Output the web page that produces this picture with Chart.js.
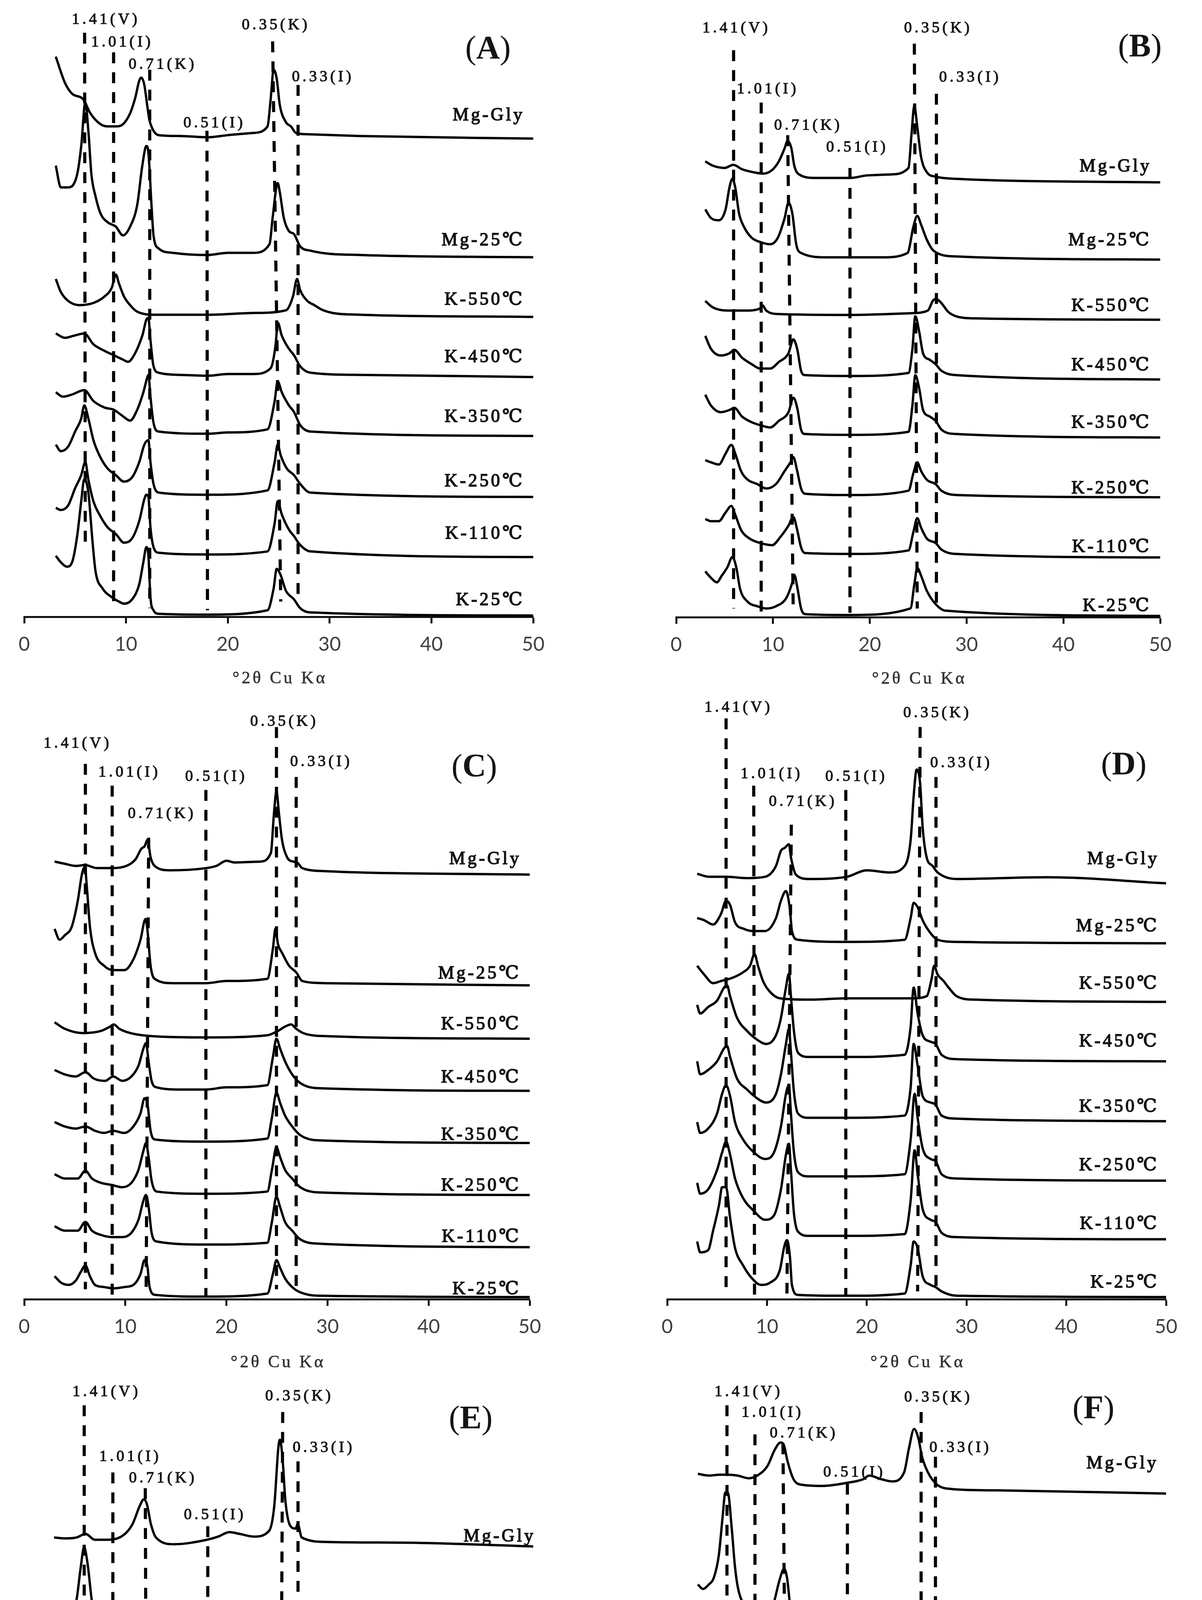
<!DOCTYPE html>
<html>
<head>
<meta charset="utf-8">
<script src="https://cdn.jsdelivr.net/npm/chart.js@4.4.0/dist/chart.umd.min.js"></script>
<style>
  html, body { margin: 0; padding: 0; background: #fff; }
  #page { position: relative; width: 3077px; height: 5307px; overflow: hidden; background: #fff; }
  canvas { position: absolute; }
</style>
</head>
<body>
<div id="page">
  <canvas id="pA"></canvas>
  <canvas id="pB"></canvas>
  <canvas id="pC"></canvas>
  <canvas id="pD"></canvas>
  <canvas id="pE"></canvas>
  <canvas id="pF"></canvas>
</div>
<script>
// sample names (top to bottom) and d-spacing marker labels
const traceNames = ['Mg-Gly', 'Mg-25℃', 'K-550℃', 'K-450℃', 'K-350℃', 'K-250℃', 'K-110℃', 'K-25℃'];
const peakNames = ['1.41(V)', '1.01(I)', '0.71(K)', '0.51(I)', '0.35(K)', '0.33(I)'];
const xTicks = [0, 10, 20, 30, 40, 50];

// intensity, [°2θ, stacked intensity]
const seriesA = [
  [[3.1,1285],[4.0,1225],[4.7,1200],[5.8,1187],[6.5,1155],[7.5,1130],[8.2,1125],[9.0,1125],[9.7,1130],[10.4,1155],[10.9,1190],[11.3,1230],[11.5,1237],[11.8,1220],[12.1,1170],[12.3,1140],[12.7,1115],[13.2,1105],[15.4,1103],[18,1100],[20,1105],[22.5,1110],[23.9,1125],[24.2,1185],[24.5,1255],[24.8,1235],[25.1,1175],[25.7,1135],[26.2,1125],[26.7,1110],[27.8,1107],[33,1103],[50,1097]],
  [[3.1,1035],[3.6,985],[4.3,985],[5.2,1015],[5.6,1080],[6.0,1180],[6.3,1115],[6.6,1015],[7.0,965],[7.5,925],[8.2,905],[9.0,895],[9.7,875],[10.4,895],[11.1,945],[11.6,1035],[12.0,1080],[12.2,1065],[12.5,945],[12.7,875],[13.2,845],[14.6,835],[18,830],[20,835],[22.5,835],[24.1,855],[24.4,915],[24.9,995],[25.1,975],[25.5,915],[26.0,885],[26.5,878],[27.1,850],[28.1,840],[33,830],[50,825]],
  [[3.1,775],[3.6,745],[4.3,725],[5.4,715],[6.8,720],[7.9,735],[8.6,755],[9.0,785],[9.3,765],[9.8,735],[10.4,715],[11.1,700],[12.9,693],[18,693],[22.5,697],[25.7,703],[26.4,735],[26.8,775],[27.1,750],[27.8,725],[28.5,715],[29.2,705],[30.3,697],[33,693],[50,688]],
  [[3.1,650],[4.0,640],[4.9,645],[5.9,650],[6.8,625],[7.9,610],[8.8,600],[9.7,590],[10.2,585],[10.9,605],[11.6,645],[12.1,685],[12.2,685],[12.4,635],[12.7,575],[13.2,560],[15.4,555],[18,553],[20,557],[22.5,557],[24.2,570],[24.7,625],[24.9,675],[25.3,645],[26.0,615],[26.5,600],[27.1,575],[28.1,560],[33,555],[50,550]],
  [[3.1,515],[3.8,505],[4.7,510],[5.9,520],[6.8,495],[7.9,480],[8.8,475],[9.7,460],[10.4,450],[11.1,475],[11.7,515],[12.1,550],[12.2,555],[12.4,505],[12.7,445],[13.2,425],[18,420],[20,423],[23.9,430],[24.6,495],[24.9,540],[25.3,515],[26.0,485],[26.5,470],[27.1,440],[28.1,425],[50,415]],
  [[3.1,395],[3.6,380],[4.3,390],[5.0,425],[5.6,455],[5.9,485],[6.3,455],[6.8,405],[7.5,365],[8.2,340],[9.0,325],[9.8,310],[10.6,320],[11.3,355],[11.8,395],[12.2,405],[12.4,355],[12.7,305],[13.2,285],[18,280],[23.9,290],[24.6,355],[24.9,395],[25.2,370],[25.8,340],[26.5,325],[27.1,305],[28.1,285],[50,275]],
  [[3.1,250],[3.6,245],[4.3,255],[5.0,295],[5.6,325],[6.0,355],[6.3,315],[6.8,265],[7.5,230],[8.2,205],[9.0,190],[9.8,170],[10.6,180],[11.3,220],[11.8,270],[12.0,280],[12.2,275],[12.4,205],[12.7,160],[13.2,147],[18,143],[23.9,150],[24.6,215],[24.9,265],[25.3,235],[26.0,200],[26.5,185],[27.1,165],[28.1,150],[50,137]],
  [[3.1,140],[3.6,125],[4.2,115],[4.7,125],[5.2,185],[5.6,265],[5.9,315],[6.3,285],[6.7,175],[7.0,105],[7.7,65],[8.6,45],[9.3,35],[9.8,30],[10.6,40],[11.3,75],[11.7,125],[12.0,160],[12.2,140],[12.4,45],[12.7,15],[13.2,7],[18,5],[23.9,15],[24.5,65],[24.8,110],[25.2,95],[25.7,60],[26.5,40],[27.1,20],[28.1,10],[50,3]]
];
const seriesB = [
  [[3.0,1045],[3.8,1035],[5.0,1030],[5.9,1037],[6.8,1027],[8.0,1020],[9.0,1017],[9.9,1025],[10.6,1045],[11.2,1075],[11.5,1092],[11.9,1075],[12.2,1035],[12.7,1015],[14.4,1007],[18,1007],[19.8,1013],[22.1,1015],[24.0,1030],[24.3,1105],[24.6,1172],[24.9,1125],[25.3,1055],[25.9,1020],[26.8,1010],[28.9,1005],[50,997]],
  [[3.0,935],[3.6,915],[4.4,910],[5.1,935],[5.5,985],[5.8,1005],[6.1,985],[6.5,925],[7.0,895],[7.8,870],[8.7,860],[9.7,855],[10.5,870],[11.2,915],[11.6,950],[12.0,925],[12.4,855],[12.9,835],[15.6,825],[21.3,825],[23.9,835],[24.5,895],[24.9,920],[25.3,900],[25.9,865],[26.6,840],[28.9,827],[50,820]],
  [[3.0,725],[3.8,710],[5.3,703],[7.2,703],[8.6,707],[8.9,715],[9.3,703],[10.6,695],[18,693],[24.3,697],[26.0,703],[26.5,725],[26.8,730],[27.4,720],[28.1,700],[28.9,690],[30.8,685],[50,682]],
  [[3.0,645],[3.6,615],[4.6,600],[5.5,605],[6.0,613],[6.8,595],[7.8,580],[8.7,570],[9.7,570],[10.6,585],[11.6,605],[12.1,637],[12.5,615],[12.9,565],[13.3,555],[18,553],[24.0,560],[24.4,615],[24.7,690],[25.1,655],[25.5,605],[26.2,590],[26.8,580],[27.4,565],[28.9,555],[50,545]],
  [[3.0,510],[3.6,485],[4.6,470],[5.5,475],[6.0,480],[6.8,460],[7.8,447],[8.7,440],[9.7,435],[10.6,450],[11.6,470],[12.1,503],[12.5,480],[12.9,430],[13.3,420],[18,418],[24.0,425],[24.4,485],[24.7,555],[25.1,525],[25.5,475],[26.2,460],[26.8,450],[27.4,430],[28.9,420],[50,412]],
  [[3.0,360],[3.6,355],[4.4,350],[5.1,375],[5.7,395],[6.1,375],[6.7,335],[7.4,315],[8.4,305],[9.3,295],[10.3,305],[11.2,335],[11.8,355],[12.1,367],[12.5,335],[12.9,295],[13.3,283],[18,280],[24.0,290],[24.5,330],[24.9,355],[25.3,335],[25.9,315],[26.8,305],[27.4,290],[28.9,280],[50,275]],
  [[3.0,225],[3.6,220],[4.4,220],[5.1,240],[5.7,255],[6.1,235],[6.7,200],[7.6,180],[8.7,170],[9.9,165],[10.8,185],[11.6,210],[12.1,230],[12.5,200],[12.9,160],[13.3,147],[18,145],[24.0,153],[24.5,195],[24.9,227],[25.3,205],[25.9,180],[26.8,170],[27.4,155],[28.9,145],[50,137]],
  [[3.0,105],[3.6,90],[4.2,80],[4.7,95],[5.3,115],[5.8,138],[6.2,115],[6.6,65],[7.4,35],[8.4,25],[9.3,20],[10.3,25],[11.4,45],[12.0,80],[12.2,97],[12.5,70],[12.9,20],[13.3,7],[18,5],[24.2,20],[24.6,75],[24.9,113],[25.3,95],[25.9,60],[26.8,30],[27.8,15],[50,3]]
];
const seriesC = [
  [[3.0,1008],[4.0,1003],[5.1,998],[6.0,1000],[7.2,993],[8.7,993],[10.1,998],[11.0,1013],[11.6,1038],[11.9,1043],[12.2,1058],[12.5,1018],[12.9,998],[14.4,988],[18,993],[19.0,998],[20.0,1010],[20.8,1006],[23.3,1008],[24.4,1028],[24.7,1118],[24.95,1170],[25.2,1118],[25.5,1058],[26.0,1018],[26.6,1008],[27.0,1006],[27.5,993],[29.8,986],[50,978]],
  [[3.0,853],[3.5,828],[4.0,838],[4.7,858],[5.3,918],[5.7,978],[6.0,996],[6.2,948],[6.5,858],[7.0,798],[7.9,768],[8.8,758],[9.9,758],[10.8,783],[11.5,828],[12.0,876],[12.2,848],[12.5,768],[12.9,738],[14.7,728],[18,728],[20,733],[24.05,738],[24.6,808],[24.85,853],[25.1,818],[25.5,798],[26.2,768],[26.9,753],[27.5,733],[29.8,728],[50,723]],
  [[3.0,638],[4.0,623],[5.8,613],[7.6,618],[8.5,628],[8.85,633],[9.4,623],[10.5,613],[12.6,606],[18,603],[24.05,608],[25.1,618],[25.8,628],[26.4,633],[26.9,623],[27.6,613],[29.8,606],[50,600]],
  [[3.0,528],[4.0,518],[5.1,513],[6.05,523],[6.9,508],[8.0,503],[8.8,513],[9.7,503],[10.6,513],[11.3,538],[11.8,578],[12.05,590],[12.3,548],[12.6,503],[13.1,488],[15.5,483],[18,483],[20,488],[24.05,493],[24.6,558],[24.95,600],[25.3,578],[25.8,548],[26.5,518],[27.3,498],[29.1,486],[50,480]],
  [[3.0,408],[4.0,398],[5.1,393],[6.05,398],[7.0,388],[7.9,383],[8.8,388],[9.9,383],[10.8,398],[11.5,428],[11.9,463],[12.2,448],[12.5,388],[12.9,368],[18,363],[24.05,370],[24.5,418],[24.95,476],[25.3,453],[25.8,423],[26.5,398],[27.3,378],[29.1,366],[50,360]],
  [[3.0,288],[4.0,278],[5.3,278],[6.05,296],[6.7,278],[7.6,268],[8.7,263],[9.7,258],[10.6,268],[11.3,298],[11.8,343],[12.05,360],[12.3,328],[12.6,273],[13.1,248],[18,243],[24.05,248],[24.5,298],[24.95,350],[25.3,328],[25.8,298],[26.5,278],[27.3,258],[29.1,246],[50,240]],
  [[3.0,168],[4.0,158],[5.3,158],[6.05,178],[6.7,158],[7.6,148],[8.7,143],[9.7,143],[10.6,153],[11.3,183],[11.8,228],[12.05,240],[12.3,213],[12.6,153],[13.1,133],[18,126],[24.05,130],[24.5,178],[24.95,236],[25.3,213],[25.8,178],[26.5,158],[27.3,138],[29.1,128],[50,120]],
  [[3.0,53],[3.65,38],[4.4,33],[5.1,43],[5.6,63],[6.05,78],[6.5,53],[7.0,33],[7.9,28],[8.8,25],[9.9,28],[10.8,33],[11.5,58],[11.9,90],[12.2,73],[12.4,28],[12.95,10],[18,6],[24.05,13],[24.6,58],[24.95,90],[25.3,73],[25.8,48],[26.5,28],[27.3,16],[29.1,8],[50,5]]
];
const seriesD = [
  [[3.0,980],[4.2,973],[6.0,973],[7.9,970],[9.8,973],[10.9,998],[11.4,1033],[11.8,1040],[12.2,1048],[12.4,1018],[12.9,978],[14.2,968],[18,973],[20,988],[22.3,983],[23.8,998],[24.4,1058],[24.7,1158],[25.0,1220],[25.35,1188],[25.6,1088],[26.0,1018],[26.6,998],[27.1,983],[29.0,968],[38,972],[50,958]],
  [[3.0,878],[3.7,873],[4.6,863],[5.4,888],[5.9,918],[6.3,908],[6.8,868],[7.7,853],[8.7,848],[9.8,848],[10.9,878],[11.4,918],[11.9,940],[12.3,898],[12.5,848],[13.1,828],[18,823],[23.8,828],[24.4,878],[24.7,913],[25.1,903],[25.6,873],[26.4,843],[27.1,828],[29.0,823],[50,820]],
  [[3.0,768],[3.7,748],[4.6,728],[5.4,733],[6.5,740],[7.6,753],[8.3,768],[8.75,795],[9.1,768],[9.6,733],[10.3,708],[11.3,693],[14.2,690],[18,693],[24.5,693],[26.0,698],[26.5,738],[26.75,768],[27.1,748],[27.7,733],[28.2,718],[29.0,698],[30.8,690],[50,685]],
  [[3.0,678],[3.3,658],[4.1,673],[5.0,688],[5.7,718],[6.0,723],[6.3,698],[7.0,648],[8.0,618],[9.0,598],[9.9,588],[10.9,608],[11.4,648],[11.9,718],[12.2,750],[12.4,698],[12.7,618],[13.1,568],[14.2,558],[18,558],[23.8,563],[24.4,628],[24.7,718],[25.1,658],[25.6,608],[26.4,593],[26.9,588],[27.5,563],[29.0,553],[50,548]],
  [[3.0,548],[3.3,518],[4.1,528],[5.0,548],[5.7,578],[6.0,583],[6.3,558],[7.0,508],[8.0,483],[9.0,463],[9.9,453],[10.9,473],[11.4,518],[11.9,588],[12.2,623],[12.4,568],[12.7,478],[13.1,428],[14.2,418],[18,418],[23.8,423],[24.4,488],[24.7,588],[25.1,538],[25.6,468],[26.4,453],[26.9,448],[27.5,423],[29.0,416],[50,410]],
  [[3.0,408],[3.3,383],[4.1,393],[5.0,428],[5.5,473],[5.9,493],[6.3,468],[6.8,408],[7.6,368],[8.7,338],[9.8,323],[10.7,338],[11.4,398],[11.9,473],[12.2,493],[12.4,428],[12.7,338],[13.1,293],[14.2,283],[18,283],[23.8,288],[24.4,368],[24.8,473],[25.1,418],[25.6,348],[26.4,323],[26.9,318],[27.5,288],[29.0,278],[50,273]],
  [[3.0,268],[3.3,243],[4.1,253],[5.0,298],[5.5,338],[5.9,363],[6.3,333],[6.8,278],[7.6,233],[8.7,203],[9.8,183],[10.7,193],[11.4,253],[11.9,333],[12.2,358],[12.4,298],[12.7,198],[13.1,156],[14.2,146],[18,146],[23.8,150],[24.4,228],[24.8,343],[25.1,288],[25.6,208],[26.4,183],[26.9,178],[27.5,153],[29.0,143],[50,138]],
  [[3.0,133],[3.3,108],[4.1,113],[4.6,158],[5.2,218],[5.5,258],[5.9,258],[6.3,188],[6.8,118],[7.6,78],[8.5,48],[9.4,33],[10.3,38],[11.3,68],[11.7,118],[12.0,136],[12.3,98],[12.5,33],[13.1,10],[18,8],[23.8,13],[24.4,78],[24.7,133],[25.1,118],[25.6,53],[26.4,33],[26.9,28],[27.5,18],[29.0,8],[50,5]]
];
const seriesE = [
  [[3.0,998],[4.1,996],[5.2,998],[6.1,1006],[7.0,993],[8.4,993],[9.8,1003],[10.7,1028],[11.4,1068],[11.8,1083],[12.1,1073],[12.5,1028],[13.0,998],[14.8,983],[18,993],[19.1,1000],[20.2,1010],[21.2,1006],[22.6,1000],[24.1,1013],[24.6,1068],[25.0,1198],[25.15,1216],[25.4,1178],[25.7,1078],[26.2,1023],[26.7,1018],[26.9,1028],[27.3,998],[29.8,988],[38.7,986],[50,978]],
  [[3.0,833],[3.6,823],[4.5,823],[5.2,858],[5.6,928],[5.95,976],[6.3,938],[6.7,858],[7.1,808],[8.0,778],[8.9,768],[9.8,758],[10.5,768],[11.2,798],[11.7,848],[12.05,818],[12.4,748],[12.8,723],[14.8,713],[18,713],[22.6,718],[24.2,738],[24.8,823],[25.2,808],[25.7,778],[26.2,753],[26.9,743],[27.6,728],[29.8,718],[50,713]],
  [[3.0,683],[4.1,673],[5.9,673],[7.7,678],[8.4,688],[8.8,700],[9.3,688],[10.0,673],[11.2,663],[13.7,658],[18,658],[24.1,666],[26.2,683],[26.75,716],[27.3,698],[28.0,683],[28.7,673],[29.8,660],[50,653]],
  [[3.0,568],[3.6,563],[4.5,568],[5.3,578],[6.05,583],[6.6,563],[7.7,538],[8.4,533],[8.8,543],[9.5,523],[10.5,518],[11.4,548],[11.8,588],[12.0,623],[12.25,636],[12.5,578],[12.8,508],[13.4,488],[15.5,480],[18,480],[24.1,488],[24.6,548],[25.0,623],[25.3,588],[25.9,538],[26.6,523],[26.9,528],[27.5,498],[29.8,483],[50,476]],
  [[3.0,423],[3.6,418],[4.5,423],[5.4,433],[6.2,438],[6.8,423],[7.7,403],[8.4,393],[8.8,410],[9.3,393],[10.3,388],[11.2,418],[11.8,478],[12.05,515],[12.3,498],[12.6,418],[13.0,373],[13.7,363],[18,360],[24.1,368],[24.6,428],[25.0,510],[25.3,468],[25.9,418],[26.6,403],[27.0,403],[27.5,378],[29.8,366],[50,360]],
  [[3.0,318],[3.6,313],[4.3,328],[5.0,358],[5.6,378],[5.95,393],[6.4,368],[7.0,328],[7.7,298],[8.6,278],[9.5,268],[10.3,273],[11.1,298],[11.7,368],[11.95,413],[12.3,388],[12.6,298],[13.0,253],[13.7,246],[18,243],[24.1,250],[24.5,318],[25.0,383],[25.3,358],[25.9,303],[26.6,283],[27.0,283],[27.5,258],[29.8,246],[50,240]],
  [[3.0,213],[3.6,203],[4.3,223],[5.0,248],[5.5,263],[5.95,280],[6.4,253],[7.0,208],[7.7,178],[8.6,158],[9.5,148],[10.3,153],[11.1,178],[11.6,238],[11.95,303],[12.1,323],[12.4,288],[12.7,188],[13.0,143],[13.7,133],[18,128],[24.1,133],[24.5,198],[25.0,273],[25.3,238],[25.9,188],[26.6,168],[27.0,170],[27.5,143],[29.8,130],[50,123]],
  [[3.0,103],[3.6,93],[4.3,103],[5.0,128],[5.5,178],[5.95,210],[6.3,178],[6.8,108],[7.5,68],[8.4,48],[9.5,33],[10.5,33],[11.2,53],[11.8,108],[12.0,136],[12.3,118],[12.6,48],[13.0,18],[14.8,8],[18,6],[24.3,13],[24.7,88],[24.95,113],[25.3,93],[25.9,58],[26.6,38],[27.0,38],[27.5,20],[29.8,10],[50,6]]
];
const seriesF = [
  [[3.0,1145],[4.1,1141],[5.2,1143],[5.9,1143],[7.0,1141],[8.1,1135],[9.1,1143],[10.0,1163],[10.7,1198],[11.3,1215],[11.65,1208],[12.0,1173],[12.6,1133],[13.3,1121],[15.5,1118],[18,1125],[19.6,1133],[20.2,1141],[21.4,1133],[22.5,1128],[23.7,1148],[24.2,1203],[24.7,1245],[25.15,1223],[25.5,1183],[26.1,1148],[27.0,1121],[28.5,1111],[33,1108],[50,1101]],
  [[3.0,898],[3.5,888],[4.1,898],[4.6,913],[5.1,963],[5.5,1053],[5.75,1103],[6.0,1103],[6.4,1023],[6.7,943],[7.0,893],[7.6,853],[8.1,838],[8.7,823],[9.4,808],[10.2,823],[10.7,863],[11.2,908],[11.65,933],[11.95,913],[12.3,843],[12.8,783],[13.5,753],[15.5,743],[21.8,745],[24.0,763],[24.5,823],[24.95,843],[25.3,828],[25.9,793],[26.6,778],[27.4,758],[29.2,743],[50,738]],
  [[3.0,728],[3.9,708],[4.8,698],[5.9,693],[7.0,693],[8.1,703],[8.6,718],[8.8,748],[9.1,713],[9.6,693],[10.7,681],[14.4,678],[20,678],[21.6,683],[21.9,715],[22.2,683],[25.1,678],[26.6,688],[26.85,725],[27.2,705],[27.7,693],[29.2,678],[50,671]],
  [[3.0,653],[3.3,628],[4.1,608],[5.2,598],[6.0,608],[7.0,593],[8.1,578],[8.7,583],[9.2,568],[10.2,558],[11.1,573],[11.65,608],[11.9,643],[12.2,628],[12.6,573],[13.1,543],[15.5,538],[19.6,545],[20.2,551],[21.4,548],[21.9,568],[22.3,548],[24.0,553],[24.6,603],[24.95,648],[25.3,623],[25.9,573],[26.5,558],[26.85,578],[27.2,553],[29.2,538],[50,533]],
  [[3.0,518],[3.3,493],[4.1,478],[5.2,473],[6.0,475],[7.0,463],[8.1,448],[8.7,448],[9.2,438],[10.2,428],[11.1,443],[11.65,483],[11.9,513],[12.2,498],[12.6,443],[13.1,413],[15.5,408],[19.6,418],[20.2,423],[21.4,421],[21.9,438],[22.3,418],[24.0,423],[24.6,483],[24.95,508],[25.3,493],[25.9,443],[26.5,428],[26.85,443],[27.2,423],[29.2,411],[50,405]],
  [[3.0,368],[3.3,353],[3.9,353],[4.6,358],[5.4,388],[5.85,403],[6.2,383],[6.7,343],[7.4,313],[8.1,298],[8.9,293],[9.8,288],[10.7,303],[11.5,333],[11.9,383],[12.1,398],[12.4,373],[12.8,313],[13.3,283],[15.5,278],[19.6,283],[20.2,291],[21.4,288],[21.9,305],[22.3,285],[24.0,293],[24.6,353],[25.0,375],[25.4,363],[25.9,313],[26.5,298],[26.85,305],[27.2,288],[29.2,278],[50,273]],
  [[3.0,233],[3.3,218],[3.9,218],[4.6,228],[5.4,248],[5.85,263],[6.2,248],[6.7,213],[7.4,183],[8.1,168],[8.7,168],[9.8,163],[10.7,173],[11.5,203],[11.9,253],[12.1,263],[12.4,243],[12.8,188],[13.3,153],[15.5,148],[19.6,151],[20.2,161],[21.4,155],[21.9,173],[22.3,153],[24.0,158],[24.6,213],[25.0,238],[25.4,228],[25.9,183],[26.5,168],[26.85,175],[27.2,158],[29.2,145],[50,138]],
  [[3.0,123],[3.5,108],[4.1,93],[4.8,103],[5.4,148],[5.85,178],[6.2,163],[6.7,103],[7.2,53],[8.1,38],[8.7,38],[9.8,33],[10.7,38],[11.5,63],[11.95,93],[12.2,83],[12.6,38],[13.3,13],[15.5,8],[19.6,13],[20.2,21],[21.4,18],[21.9,38],[22.3,18],[24.0,23],[24.6,63],[24.95,85],[25.4,68],[25.9,43],[26.5,33],[26.85,38],[27.2,18],[29.2,8],[35,11],[50,5]]
];

// dashed reference lines: [2θ top, y top, 2θ bottom, y bottom], order as peakNames
const refLinesA = [[5.93,1340,6.0,155],[8.78,1295,8.78,30],[12.33,1255,12.33,20],[17.95,1115,18.0,15],[24.4,1320,25.2,35],[26.9,1220,26.9,35]];
const refLinesB = [[5.93,1300,5.93,20],[8.78,1180,8.78,10],[11.52,1105,12.09,15],[17.95,1030,17.95,10],[24.6,1315,24.9,20],[26.88,1200,26.88,25]];
const refLinesC = [[6.05,1233,6.05,23],[8.7,1183,8.7,8],[12.31,1063,12.06,18],[17.97,1173,17.97,8],[24.95,1318,24.95,23],[26.9,1203,26.9,23]];
const refLinesD = [[5.9,1338,5.9,23],[8.67,1183,8.75,8],[12.44,1093,12.0,13],[17.9,1173,17.9,8],[25.35,1318,25.1,18],[26.94,1203,26.94,23]];
const refLinesE = [[5.96,1293,5.96,18],[8.77,1143,8.77,13],[11.95,1108,12.13,8],[18.08,1023,18.08,8],[25.43,1278,25.14,28],[26.93,1168,26.93,28]];
const refLinesF = [[5.92,1298,5.92,18],[8.73,1233,8.73,13],[11.54,1213,12.02,13],[18.01,1123,18.01,8],[25.41,1283,25.41,18],[26.85,1183,26.85,23]];

// layout: page geometry and where the texts sit (data coords of label centres)
const panels = [
  { id: 'pA', letter: 'A', series: seriesA, refs: refLinesA, yMax: 1415,
    box: { left: 0, top: 0, w: 1540, h: 1780 }, x0: 62, x50: 1365, areaTop: 0, axisY: 1579, titleDy: 158,
    peakPos: [[7.89,1370],[9.49,1318],[13.47,1267],[18.55,1132],[24.59,1357],[29.21,1238]], letterPos: [45.56,1300],
    nameX: 48.93, nameY: [1150,863,727,595,458,310,190,38] },
  { id: 'pB', letter: 'B', series: seriesB, refs: refLinesB, yMax: 1415,
    box: { left: 1540, top: 0, w: 1537, h: 1780 }, x0: 1731, x50: 2970, areaTop: 0, axisY: 1580, titleDy: 158,
    peakPos: [[6.08,1350],[9.32,1210],[13.5,1127],[18.56,1077],[26.92,1350],[30.23,1237]], letterPos: [47.9,1305],
    nameX: 48.86, nameY: [1033,863,713,577,445,295,160,25] },
  { id: 'pC', letter: 'C', series: seriesC, refs: refLinesC, yMax: 1418,
    box: { left: 0, top: 1750, w: 1540, h: 1770 }, x0: 62, x50: 1356, areaTop: 1750, axisY: 3326, titleDy: 162,
    peakPos: [[5.15,1280],[10.27,1213],[13.49,1118],[18.86,1203],[25.59,1330],[29.24,1238]], letterPos: [44.52,1223],
    nameX: 48.93, nameY: [1013,750,633,510,378,261,143,23] },
  { id: 'pD', letter: 'D', series: seriesD, refs: refLinesD, yMax: 1418,
    box: { left: 1540, top: 1750, w: 1537, h: 1770 }, x0: 1708, x50: 2985, areaTop: 1750, axisY: 3326, titleDy: 162,
    peakPos: [[7.01,1363],[10.33,1210],[13.47,1146],[18.82,1203],[26.94,1350],[29.34,1235]], letterPos: [45.76,1228],
    nameX: 49.08, nameY: [1013,858,726,593,443,308,173,38] },
  { id: 'pE', letter: 'E', series: seriesE, refs: refLinesE, yMax: 1378,
    box: { left: 0, top: 3500, w: 1540, h: 1807 }, x0: 60, x50: 1365, areaTop: 3500, axisY: 5081, titleDy: 145,
    peakPos: [[8.02,1323],[10.34,1178],[13.55,1130],[18.65,1048],[26.93,1313],[29.32,1198]], letterPos: [43.87,1260],
    nameX: 50.0, nameY: [1000,738,678,513,388,263,150,33] },
  { id: 'pF', letter: 'F', series: seriesF, refs: refLinesF, yMax: 1383,
    box: { left: 1540, top: 3500, w: 1537, h: 1807 }, x0: 1710, x50: 2985, areaTop: 3500, axisY: 5086, titleDy: 145,
    peakPos: [[7.95,1328],[10.36,1281],[13.5,1235],[18.57,1148],[27.0,1315],[29.22,1203]], letterPos: [42.71,1288],
    nameX: 49.0, nameY: [1168,778,698,565,423,295,161,33] }
];

const SERIF = '"Liberation Serif", "DejaVu Serif", serif';

// text with letter spacing, slightly thickened like the scanned original
function spacedText(ctx, txt, x, y, spacing, align, weight) {
  ctx.letterSpacing = spacing + 'px';
  let w = ctx.measureText(txt).width - spacing;
  let sx = align === 'right' ? x - w : (align === 'center' ? x - w / 2 : x);
  ctx.textAlign = 'left';
  ctx.fillText(txt, sx, y);
  if (weight) {
    ctx.lineWidth = weight;
    ctx.strokeStyle = ctx.fillStyle;
    ctx.strokeText(txt, sx, y);
  }
}

function makeChart(p) {
  const cv = document.getElementById(p.id);
  cv.width = p.box.w;
  cv.height = p.box.h;
  cv.style.left = p.box.left + 'px';
  cv.style.top = p.box.top + 'px';

  const datasets = [];
  p.refs.forEach(r => {
    datasets.push({
      data: [{ x: r[0], y: r[1] }, { x: r[2], y: r[3] }],
      borderColor: '#000', borderWidth: 8, borderDash: [28, 23],
      pointRadius: 0, fill: false, tension: 0
    });
  });
  p.series.forEach(s => {
    datasets.push({
      data: s.map(pt => ({ x: pt[0], y: pt[1] })),
      borderColor: '#000', borderWidth: 6, pointRadius: 0, fill: false,
      cubicInterpolationMode: 'monotone'
    });
  });

  const textPlugin = {
    id: 'panelText',
    afterDraw(chart) {
      const ctx = chart.ctx;
      const xs = chart.scales.x, ys = chart.scales.y;
      ctx.save();
      ctx.fillStyle = '#141414';
      ctx.textBaseline = 'middle';
      // d-spacing labels
      ctx.font = '40px ' + SERIF;
      peakNames.forEach((t, i) => {
        const pos = p.peakPos[i];
        spacedText(ctx, t, xs.getPixelForValue(pos[0]), ys.getPixelForValue(pos[1]), 7, 'center', 1.3);
      });
      // sample names
      ctx.font = '46px ' + SERIF;
      traceNames.forEach((t, i) => {
        spacedText(ctx, t, xs.getPixelForValue(p.nameX), ys.getPixelForValue(p.nameY[i]), 6, 'right', 1.8);
      });
      // panel letter "(A)" with bold letter
      const lx = xs.getPixelForValue(p.letterPos[0]), ly = ys.getPixelForValue(p.letterPos[1]);
      ctx.letterSpacing = '0px';
      ctx.font = '84px ' + SERIF;
      const wp = ctx.measureText('(').width;
      ctx.font = 'bold 84px ' + SERIF;
      const wl = ctx.measureText(p.letter).width;
      let sx = lx - (wp * 2 + wl) / 2;
      ctx.textAlign = 'left';
      ctx.font = '84px ' + SERIF;
      ctx.fillText('(', sx, ly);
      ctx.font = 'bold 84px ' + SERIF;
      ctx.fillText(p.letter, sx + wp, ly);
      ctx.font = '84px ' + SERIF;
      ctx.fillText(')', sx + wp + wl, ly);
      // axis title
      ctx.font = '44px ' + SERIF;
      ctx.fillStyle = '#333';
      spacedText(ctx, '°2θ Cu Kα', xs.getPixelForValue(25), chart.chartArea.bottom + p.titleDy, 6, 'center', 0.8);
      ctx.restore();
    }
  };

  const axisH = p.box.top + p.box.h - p.axisY;
  new Chart(cv, {
    type: 'line',
    data: { datasets: datasets },
    options: {
      responsive: false,
      animation: false,
      devicePixelRatio: 1,
      events: [],
      layout: {
        padding: {
          left: p.x0 - p.box.left,
          right: p.box.left + p.box.w - p.x50,
          top: p.areaTop - p.box.top,
          bottom: 0
        }
      },
      plugins: { legend: { display: false }, tooltip: { enabled: false } },
      scales: {
        x: {
          type: 'linear', min: 0, max: 50,
          afterBuildTicks: s => { s.ticks = xTicks.map(v => ({ value: v })); },
          afterFit: s => { s.height = axisH; },
          ticks: {
            color: '#404040', padding: 24,
            font: { family: 'Lato, "Open Sans", sans-serif', size: 50 }
          },
          grid: { drawOnChartArea: false, drawTicks: true, tickLength: 17, tickWidth: 5, tickColor: '#111' },
          border: { display: true, color: '#111', width: 5 }
        },
        y: { display: false, min: 0, max: p.yMax }
      }
    },
    plugins: [textPlugin]
  });
}

panels.forEach(makeChart);
</script>
</body>
</html>
